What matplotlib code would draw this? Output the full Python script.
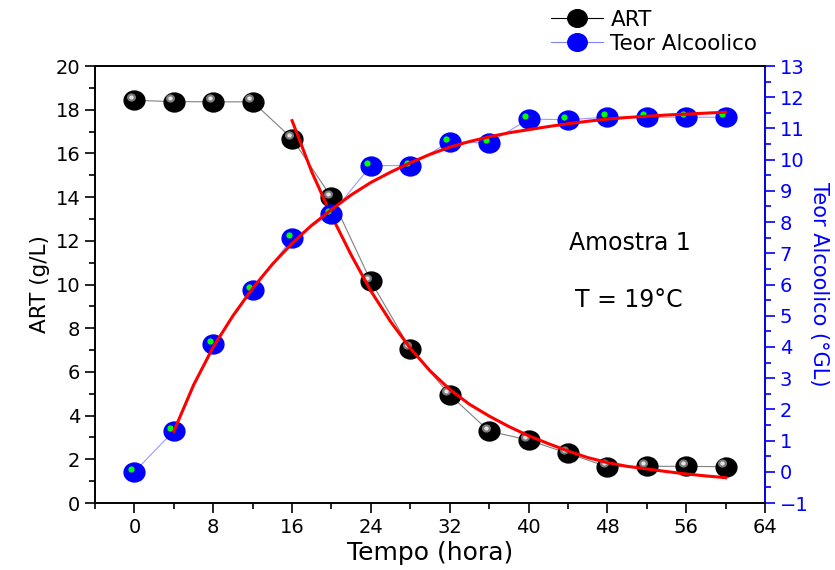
import matplotlib
matplotlib.use("Agg")
import matplotlib.pyplot as plt
import matplotlib.ticker as mticker
import matplotlib.transforms as mtransforms
from matplotlib.path import Path
from matplotlib.lines import Line2D

matplotlib.rcParams.update({
    "font.family": ["DejaVu Sans"],
    "font.size": 14,
})

# ── data ──────────────────────────────────────────────────────────────────────
tempo = [0, 4, 8, 12, 16, 20, 24, 28, 32, 36, 40, 44, 48, 52, 56, 60]
art = [18.43, 18.37, 18.36, 18.36, 16.68, 13.99, 10.14, 7.06,
       4.95, 3.29, 2.88, 2.27, 1.66, 1.68, 1.68, 1.66]
teor = [0.0, 1.31, 4.09, 5.83, 7.48, 8.26, 9.81, 9.81,
        10.58, 10.53, 11.30, 11.28, 11.36, 11.36, 11.36, 11.36]

# fitted curves (red), read at regular steps
fit_art_x = [16, 18, 20, 22, 24, 26, 28, 30, 32, 34, 36, 38, 40, 42, 44,
             46, 48, 50, 52, 54, 56, 58, 60]
fit_art_y = [17.5, 15.15, 13.15, 11.35, 9.7, 8.3, 7.08, 6.05, 5.2, 4.52, 3.98,
             3.5, 3.08, 2.72, 2.38, 2.08, 1.85, 1.68, 1.56, 1.44, 1.33, 1.24, 1.16]
fit_teor_x = [4, 6, 8, 10, 12, 14, 16, 18, 20, 22, 24, 26, 28, 30, 32,
              34, 36, 38, 40, 42, 44, 46, 48, 50, 52, 54, 56, 58, 60]
fit_teor_y = [1.3, 2.78, 4.0, 5.0, 5.88, 6.65, 7.32, 7.9, 8.4, 8.87, 9.27,
              9.6, 9.9, 10.17, 10.4, 10.58, 10.73, 10.86, 10.96, 11.06, 11.15,
              11.23, 11.3, 11.35, 11.39, 11.43, 11.46, 11.49, 11.52]

C_BLUE = "#0000ff"
C_RED = "#ff0000"

# slightly wide ellipse marker, like the reference spheres
_circ = Path.unit_circle()
ELL = Path(_circ.vertices * [1.1, 1.0], _circ.codes)

fig = plt.figure(figsize=(8.35, 5.70), dpi=100)
ax = fig.add_axes([0.1138, 0.1175, 0.8024, 0.7667])
ax2 = ax.twinx()

# ── ART (left axis) ───────────────────────────────────────────────────────────
ax.plot(tempo, art, color="#808080", lw=0.8, zorder=2)
ax.plot(tempo, art, ls="none", marker=ELL, ms=15, mfc="black", mec="black", zorder=3)
hl = mtransforms.offset_copy(ax.transData, fig=fig, x=-3.5, y=3.5, units="dots")
ax.plot(tempo, art, ls="none", marker=ELL, ms=6.5, mfc="#7a7a7a", mec="none",
        transform=hl, zorder=4)
ax.plot(tempo, art, ls="none", marker=ELL, ms=3.2, mfc="#e4e4e4", mec="none",
        transform=hl, zorder=5)
ax.plot(fit_art_x, fit_art_y, color=C_RED, lw=2.2, zorder=10)

# ── Teor Alcoolico (right axis) ───────────────────────────────────────────────
ax2.plot(tempo, teor, color="#9a9aff", lw=0.8, zorder=2)
ax2.plot(tempo, teor, ls="none", marker=ELL, ms=15, mfc=C_BLUE, mec=C_BLUE, zorder=3)
hl2 = mtransforms.offset_copy(ax2.transData, fig=fig, x=-3.5, y=3, units="dots")
ax2.plot(tempo, teor, ls="none", marker="o", ms=4.5, mfc="#00ff00", mec="none",
         transform=hl2, zorder=4)
ax2.plot(fit_teor_x, fit_teor_y, color=C_RED, lw=2.2, zorder=10)

# ── axes ──────────────────────────────────────────────────────────────────────
ax.set_xlim(-4, 64)
ax.set_ylim(0, 20)
ax2.set_ylim(-1, 13)
ax.xaxis.set_major_locator(mticker.MultipleLocator(8))
ax.xaxis.set_minor_locator(mticker.MultipleLocator(4))
ax.yaxis.set_major_locator(mticker.MultipleLocator(2))
ax.yaxis.set_minor_locator(mticker.MultipleLocator(1))
ax2.yaxis.set_major_locator(mticker.MultipleLocator(1))
ax2.yaxis.set_minor_locator(mticker.MultipleLocator(0.5))

for a in (ax, ax2):
    for s in a.spines.values():
        s.set_linewidth(1.2)
ax2.spines["right"].set_color(C_BLUE)
ax.tick_params(which="major", direction="out", length=7, width=1.2, labelsize=14)
ax.tick_params(which="minor", direction="out", length=4, width=1.2)
ax2.tick_params(which="major", direction="out", length=7, width=1.2,
                colors=C_BLUE, labelsize=14)
ax2.tick_params(which="minor", direction="out", length=4, width=1.2, colors=C_BLUE)

ax.set_xlabel("Tempo (hora)", fontsize=18, labelpad=3)
ax.set_ylabel("ART (g/L)", fontsize=15.5, labelpad=4)
ax2.set_ylabel("Teor Alcoolico (°GL)", fontsize=15, color=C_BLUE,
               rotation=270, labelpad=15)

ax.text(44.15, 11.92, "Amostra 1", fontsize=17, va="center", ha="left")
ax.text(44.7, 9.27, "T = 19°C", fontsize=17, va="center", ha="left")

# ── legend ────────────────────────────────────────────────────────────────────
handles = [
    Line2D([], [], color="black", lw=0.8, marker=ELL, ms=14, mfc="black", mec="black"),
    Line2D([], [], color="#8080ff", lw=0.8, marker=ELL, ms=14, mfc=C_BLUE, mec=C_BLUE),
]
fig.legend(handles, ["ART", "Teor Alcoolico"], loc="upper left",
           bbox_to_anchor=(0.637, 1.017), frameon=False, fontsize=15.5,
           handlelength=2.4, handletextpad=0.35, labelspacing=0.2)

fig.savefig("out.png", dpi=100)
